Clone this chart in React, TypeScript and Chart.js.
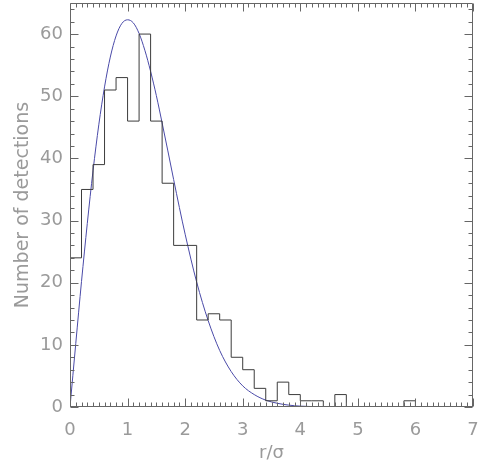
import React, { useEffect, useRef } from "react";
import { Chart, registerables } from "chart.js";

Chart.register(...registerables);

// Histogram: left edge of each 0.2-wide bin (r/sigma) and number of detections
const binStart = [
  0, 0.2, 0.4, 0.6, 0.8, 1.0, 1.2, 1.4, 1.6, 1.8, 2.0, 2.2, 2.4, 2.6, 2.8,
  3.0, 3.2, 3.4, 3.6, 3.8, 4.0, 4.2, 4.4, 4.6, 4.8, 5.0, 5.2, 5.4, 5.6, 5.8,
  6.0, 6.2, 6.4, 6.6, 6.8,
];
const binCounts = [
  24, 35, 39, 51, 53, 46, 60, 46, 36, 26, 26, 14, 15, 14, 8,
  6, 3, 1, 4, 2, 1, 1, 0, 2, 0, 0, 0, 0, 0, 1,
  0, 0, 0, 0, 0,
];
const binWidth = 0.2;

// Fitted curve
const curveX = [
  0, 0.1, 0.2, 0.3, 0.4, 0.5, 0.6, 0.7, 0.8, 0.9, 1.0, 1.1, 1.2, 1.3, 1.4,
  1.5, 1.6, 1.7, 1.8, 1.9, 2.0, 2.2, 2.4, 2.6, 2.8, 3.0, 3.2, 3.4, 3.6, 3.8,
  4.0, 4.5, 5.0, 6.0, 7.0,
];
const curveY = [
  0, 10.2, 20.2, 29.5, 38.0, 45.4, 51.5, 56.3, 59.7, 61.7, 62.3, 61.8, 60.1, 57.4, 54.0,
  50.1, 45.7, 41.2, 36.6, 32.1, 27.8, 20.1, 13.9, 9.1, 5.7, 3.4, 2.0, 1.1, 0.6, 0.3,
  0.14, 0.02, 0, 0, 0,
];

// Axis ranges and ticks
const xMin = 0;
const xMax = 7;
const yMin = 0;
const yMax = 65;
const xMajorStep = 1;
const xMinorStep = 0.1;
const yMajorStep = 10;
const yMinorStep = 2;

const xTitle = "r/\u03c3";
const yTitle = "Number of detections";

const FONT = "'DejaVu Sans', sans-serif";
const TEXT_COLOR = "#9a9a9a";
const AXIS_COLOR = "#666666";

const boxTicksPlugin = {
  id: "boxTicks",
  afterDatasetsDraw(chart: any) {
    const { ctx, chartArea, scales } = chart;
    const { left, right, top, bottom } = chartArea;
    const xs = scales.x;
    const ys = scales.y;
    ctx.save();
    ctx.strokeStyle = AXIS_COLOR;
    ctx.lineWidth = 1;
    const L = Math.round(left) + 0.5;
    const R = Math.round(right) - 0.5;
    const T = Math.round(top) + 0.5;
    const B = Math.round(bottom) - 0.5;
    ctx.beginPath();
    ctx.rect(L, T, R - L, B - T);
    ctx.stroke();
    ctx.beginPath();
    const nx = Math.round((xMax - xMin) / xMinorStep);
    for (let i = 0; i <= nx; i++) {
      const v = xMin + i * xMinorStep;
      const major = Math.abs(v / xMajorStep - Math.round(v / xMajorStep)) < 1e-6;
      const len = major ? 8 : 4;
      const px = Math.round(xs.getPixelForValue(v)) + 0.5;
      ctx.moveTo(px, B);
      ctx.lineTo(px, B - len);
      ctx.moveTo(px, T);
      ctx.lineTo(px, T + len);
    }
    const ny = Math.round((yMax - yMin) / yMinorStep);
    for (let i = 0; i <= ny; i++) {
      const v = yMin + i * yMinorStep;
      const major = Math.abs(v / yMajorStep - Math.round(v / yMajorStep)) < 1e-6;
      const len = major ? 8 : 4;
      const py = Math.round(ys.getPixelForValue(v)) + 0.5;
      ctx.moveTo(L, py);
      ctx.lineTo(L + len, py);
      ctx.moveTo(R, py);
      ctx.lineTo(R - len, py);
    }
    ctx.stroke();
    ctx.restore();
  },
};

export default function App() {
  const canvasRef = useRef<HTMLCanvasElement | null>(null);

  useEffect(() => {
    const canvas = canvasRef.current;
    if (!canvas) return;

    const lastEdge = binStart[binStart.length - 1] + binWidth;
    // stepped "before": each segment keeps the value of its starting point
    const histData = [
      { x: binStart[0], y: 0 },
      ...binStart.map((x, i) => ({ x, y: binCounts[i] })),
      { x: lastEdge, y: binCounts[binCounts.length - 1] },
    ];
    const curveData = curveX.map((x, i) => ({ x, y: curveY[i] }));

    const chart = new Chart(canvas, {
      type: "line",
      data: {
        datasets: [
          {
            label: "histogram",
            data: histData,
            stepped: "before",
            borderColor: "#3c3c3c",
            borderWidth: 1,
            pointRadius: 0,
            fill: false,
          },
          {
            label: "fit",
            data: curveData,
            borderColor: "#4a4aa8",
            borderWidth: 1,
            pointRadius: 0,
            cubicInterpolationMode: "monotone",
            fill: false,
          },
        ],
      },
      options: {
        animation: false,
        responsive: true,
        maintainAspectRatio: false,
        layout: { padding: { left: 0, right: 6, top: 3, bottom: 0 } },
        plugins: {
          legend: { display: false },
          tooltip: { enabled: false },
        },
        scales: {
          x: {
            type: "linear",
            min: xMin,
            max: xMax,
            border: { display: false },
            grid: { display: false, drawTicks: false },
            ticks: {
              stepSize: xMajorStep,
              padding: 13,
              color: TEXT_COLOR,
              font: { family: FONT, size: 18 },
              maxRotation: 0,
            },
            title: {
              display: true,
              text: xTitle,
              color: TEXT_COLOR,
              font: { family: FONT, size: 18 },
              padding: { top: 0, bottom: 2 },
            },
            afterFit(scale: any) {
              scale.height = 59;
              scale.paddingLeft = 0;
              scale.paddingRight = 0;
            },
          },
          y: {
            type: "linear",
            min: yMin,
            max: yMax,
            border: { display: false },
            grid: { display: false, drawTicks: false },
            ticks: {
              stepSize: yMajorStep,
              padding: 7,
              color: TEXT_COLOR,
              font: { family: FONT, size: 18 },
            },
            afterBuildTicks(scale: any) {
              scale.ticks = scale.ticks.filter(
                (t: any) => Math.abs(t.value / yMajorStep - Math.round(t.value / yMajorStep)) < 1e-6
              );
            },
            title: {
              display: true,
              text: yTitle,
              color: TEXT_COLOR,
              font: { family: FONT, size: 19 },
              padding: { top: 12, bottom: 0 },
            },
            afterFit(scale: any) {
              scale.width = 70;
              scale.paddingTop = 0;
              scale.paddingBottom = 0;
            },
          },
        },
      },
      plugins: [boxTicksPlugin],
    });

    return () => chart.destroy();
  }, []);

  return (
    <div style={{ position: "fixed", left: 0, top: 0, width: 479, height: 466, background: "#fff" }}>
      <canvas ref={canvasRef} />
    </div>
  );
}
